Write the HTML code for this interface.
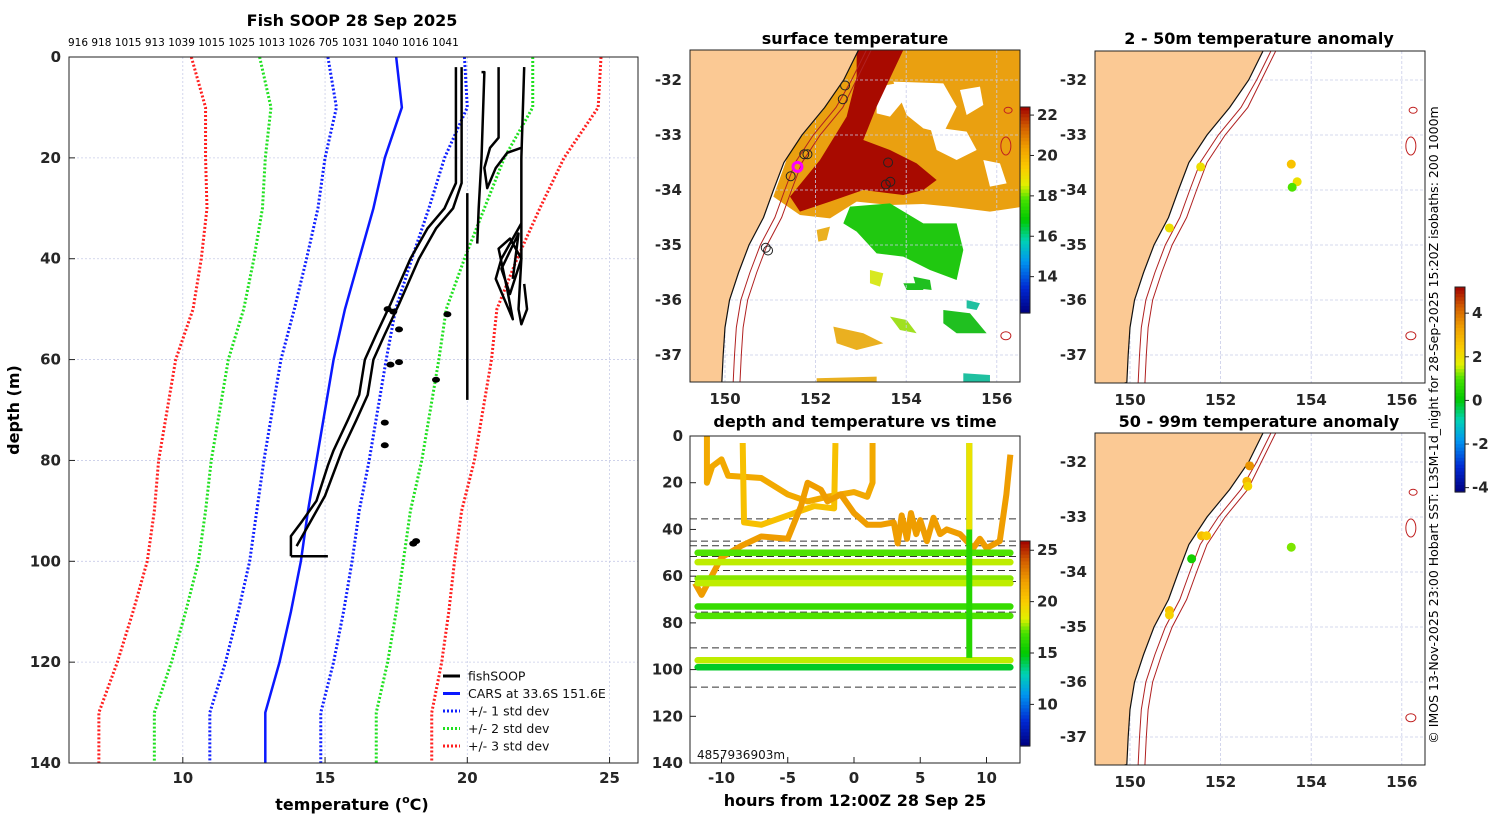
<!DOCTYPE html>
<html><head><meta charset="utf-8">
<style>
html,body{margin:0;padding:0;background:#fff;}
svg{display:block;font-family:"DejaVu Sans","Liberation Sans",sans-serif;}
.tk{font-size:15px;font-weight:bold;fill:#262626;}
.tt{font-size:16px;font-weight:bold;fill:#000;}
</style></head>
<body>
<svg id="fig" width="1500" height="820" viewBox="0 0 1500 820" xmlns="http://www.w3.org/2000/svg">
<rect width="1500" height="820" fill="#fff"/>
<text x="352" y="26" text-anchor="middle" class="tt">Fish SOOP 28 Sep 2025</text>
<text x="68" y="46" font-size="10.5" fill="#000">916 918 1015 913 1039 1015 1025 1013 1026 705 1031 1040 1016 1041</text>
<text x="352" y="810" text-anchor="middle" class="tt">temperature (<tspan font-size="11" dy="-7">o</tspan><tspan dy="7">C)</tspan></text>
<text transform="translate(19,410) rotate(-90)" text-anchor="middle" class="tt">depth (m)</text>
<text x="855" y="44" text-anchor="middle" class="tt">surface temperature</text>
<text x="855" y="427" text-anchor="middle" class="tt">depth and temperature vs time</text>
<text x="855" y="806" text-anchor="middle" class="tt">hours from 12:00Z 28 Sep 25</text>
<text x="1259" y="44" text-anchor="middle" class="tt">2 - 50m temperature anomaly</text>
<text x="1259" y="427" text-anchor="middle" class="tt">50 - 99m temperature anomaly</text>
<text transform="translate(1438,425) rotate(-90)" text-anchor="middle" font-size="12.5" fill="#000">© IMOS 13-Nov-2025 23:00 Hobart SST: L3SM-1d_night for 28-Sep-2025 15:20Z isobaths: 200  1000m</text>
</svg>
<script>
// ---------- data ----------
const cars_depth=[0,10,20,30,40,50,60,70,80,90,100,110,120,130,140];
const cars_mean=[17.5,17.7,17.1,16.7,16.2,15.7,15.3,15.0,14.7,14.4,14.15,13.8,13.4,12.9,12.9];
const cars_std=[2.4,2.3,2.1,1.95,1.85,1.78,1.85,1.85,1.85,1.8,1.8,1.85,1.9,1.95,1.95];
const temp_ticks=[10,15,20,25];
const depth_ticks=[0,20,40,60,80,100,120,140];
const soop_profiles=[
 [[19.6,2],[19.6,25],[19.2,30],[18.6,34],[18.0,40],[17.3,49],[16.8,55],[16.4,60],[16.2,67],[15.8,72],[15.3,78],[15.1,81],[14.7,88],[14.2,92],[13.8,95],[13.8,99]],
 [[19.8,2],[19.8,25],[19.5,30],[18.9,34],[18.3,40],[17.6,49],[17.1,55],[16.7,60],[16.5,67],[16.1,72],[15.6,78],[15.4,81],[15.0,87],[14.5,92],[14.0,97]],
 [[20.5,3],[20.6,3],[20.5,20],[20.4,30],[20.35,37]],
 [[21.1,2],[21.1,16],[20.8,18],[20.6,22],[20.7,26],[21.0,22],[21.4,19],[21.9,18]],
 [[22.0,2],[21.9,20],[21.9,30],[21.9,40],[21.8,50],[21.9,53],[22.1,50],[22.0,45]],
 [[21.9,33],[21.2,40],[21.0,44],[21.3,48],[21.6,52],[21.4,46],[21.1,38],[21.5,36],[21.9,40],[21.5,47],[21.2,42],[21.8,35],[21.6,44]],
 [[20.0,27],[20.0,68]],
 [[13.8,99],[15.1,99]]
];
const soop_blobs=[[17.2,50],[17.4,50.5],[17.6,54],[17.3,61],[17.6,60.5],[17.1,72.5],[17.1,77],[18.9,64],[19.3,51],[18.2,96],[18.1,96.5]];

const lon_ticks=[150,152,154,156];
const lat_ticks=[-32,-33,-34,-35,-36,-37];
const coast=[[152.95,-31.45],[152.62,-32],[152.2,-32.5],[151.7,-33],[151.3,-33.5],[151.07,-34],[150.85,-34.5],[150.53,-35],[150.3,-35.5],[150.1,-36],[150.0,-36.5],[149.96,-37],[149.93,-37.5]];
const sst_cb_ticks=[22,20,18,16,14];
const sst_circles=[[152.65,-32.1],[152.6,-32.35],[151.75,-33.35],[151.82,-33.35],[151.45,-33.75],[153.6,-33.5],[153.65,-33.85],[153.55,-33.9],[150.9,-35.05],[150.95,-35.1]];

const anom1_lon=[151.56,153.56,153.69,153.58,150.87];
const anom1_lat=[-33.58,-33.53,-33.85,-33.95,-34.69];
const anom1_val=[2.0,2.6,2.0,1.0,2.0];
const anom2_lon=[152.64,152.58,152.6,151.58,151.69,151.36,153.56,150.87,150.87];
const anom2_lat=[-32.07,-32.35,-32.44,-33.34,-33.34,-33.76,-33.55,-34.7,-34.78];
const anom2_val=[3.5,2.8,2.2,2.7,2.4,0.3,1.2,2.6,2.3];
const anom_cb_ticks=[4,2,0,-2,-4];

const ts_hour_ticks=[-10,-5,0,5,10];
const ts_level_depths=[50,54,61,63,73,77,96,99];
const ts_level_temps=[17,18,17.5,18,16.5,17,18,14.5];
const ts_dashed=[35.5,45,47,51.6,57.6,62.3,75.4,90.7,107.5];
const ts_tracks=[
 [[-11.1,0],[-11.1,20],[-10.7,13],[-10,10],[-9.5,17],[-7,18],[-5,25],[-3.5,28],[-2,26],[0,24],[1,26],[1.4,20],[1.4,3]],
 [[-8.4,3],[-8.3,37],[-7,38],[-5,34],[-3,30],[-1.5,31],[-1.4,3]],
 [[-12,63],[-11.5,68],[-10,52],[-8.5,47],[-7,43],[-5,44],[-4,30],[-3.5,20],[-2.5,23],[-2,28],[-1,25],[0,33],[1,38],[2,38],[3,37],[3.3,46],[3.6,34],[4,44],[4.3,33],[4.7,42],[5,36],[5.5,45],[6,35],[6.5,42],[7,40],[8,42],[8.5,45],[9,48],[9.5,44],[10,48],[11,45],[11.5,25],[11.8,8]]
];
const ts_track_temps=[21.5,20.5,22];
const ts_cb_ticks=[25,20,15,10];

// ---------- helpers ----------
const NS='http://www.w3.org/2000/svg';
const svg=document.getElementById('fig');
function mk(tag,attrs,parent){const e=document.createElementNS(NS,tag);for(const k in attrs)e.setAttribute(k,attrs[k]);(parent||svg).appendChild(e);return e;}
const stops=[[0,[0,0,128]],[0.12,[0,40,210]],[0.25,[0,150,240]],[0.35,[0,210,180]],[0.45,[0,200,0]],[0.55,[70,225,0]],[0.62,[225,240,0]],[0.7,[250,205,0]],[0.8,[240,160,0]],[0.9,[210,95,0]],[1,[160,0,0]]];
function cmap(t){t=Math.max(0,Math.min(1,t));for(let i=1;i<stops.length;i++){if(t<=stops[i][0]){const a=stops[i-1],b=stops[i],f=(t-a[0])/(b[0]-a[0]);const c=a[1].map((v,j)=>Math.round(v+(b[1][j]-v)*f));return `rgb(${c[0]},${c[1]},${c[2]})`;}}return 'rgb(160,0,0)';}
function colorbar(x,y0,y1,vtop,vbot,ticks,name){
  const g=mk('g',{});
  
  
  const n=60;
  for(let i=0;i<n;i++){const r=mk('rect',{x:x,y:y0+(y1-y0)*i/n,width:10,height:(y1-y0)/n+0.6,fill:cmap(1-(i+0.5)/n)},g);
    
    }
  const b=mk('rect',{x:x,y:y0,width:10,height:y1-y0,fill:'none',stroke:'#222','stroke-width':1},g);
  
  
  ticks.forEach(v=>{const yy=y0+(vtop-v)/(vtop-vbot)*(y1-y0);
    const l=mk('line',{x1:x+10,x2:x+14,y1:yy,y2:yy,stroke:'#222'},g);
    
    
    const t=mk('text',{x:x+17,y:yy+5,'class':'tk','font-size':'13'},g);t.textContent=v;
    
    });
}

// ---------- profile chart ----------
const PX=t=>69+(t-6)*28.45, PY=d=>57+d*5.043;
temp_ticks.forEach(t=>{const l=mk('line',{x1:PX(t),x2:PX(t),y1:57,y2:763,stroke:'#c8cce8','stroke-width':0.8,'stroke-dasharray':'2,2'});
  
  });
depth_ticks.forEach(d=>{const l=mk('line',{x1:69,x2:638,y1:PY(d),y2:PY(d),stroke:'#c8cce8','stroke-width':0.8,'stroke-dasharray':'2,2'});
  
  });
function profLine(k,color,dash,name){
  const pts=cars_depth.map((d,i)=>PX(cars_mean[i]+k*cars_std[i])+','+PY(d)).join(' ');
  const p=mk('polyline',{points:pts,fill:'none',stroke:color,'stroke-width':dash?3:2.5,'stroke-dasharray':dash?'2,2':''});
  
  
}
profLine(-3,'#ff2020',1,'minus-3-std-line');profLine(3,'#ff2020',1,'plus-3-std-line');
profLine(-2,'#20e020',1,'minus-2-std-line');profLine(2,'#20e020',1,'plus-2-std-line');
profLine(-1,'#1020ff',1,'minus-1-std-line');profLine(1,'#1020ff',1,'plus-1-std-line');
profLine(0,'#0a18ff',0,'cars-mean-line');
soop_profiles.forEach(pr=>{const p=mk('polyline',{points:pr.map(q=>PX(q[0])+','+PY(q[1])).join(' '),fill:'none',stroke:'#000','stroke-width':2.5,'stroke-linejoin':'round'});
  
  });
soop_blobs.forEach(b=>{const c=mk('ellipse',{cx:PX(b[0]),cy:PY(b[1]),rx:4,ry:3,fill:'#000'});
  
  });
{const r=mk('rect',{x:69,y:57,width:569,height:706,fill:'none',stroke:'#222','stroke-width':1});
 
 }
temp_ticks.forEach(t=>{const l=mk('line',{x1:PX(t),x2:PX(t),y1:763,y2:757,stroke:'#222'});
  
  
  const tx=mk('text',{x:PX(t),y:783,'text-anchor':'middle','class':'tk'});tx.textContent=t;
  
  });
depth_ticks.forEach(d=>{const l=mk('line',{x1:69,x2:75,y1:PY(d),y2:PY(d),stroke:'#222'});
  
  
  const tx=mk('text',{x:61,y:PY(d)+5,'text-anchor':'end','class':'tk'});tx.textContent=d;
  
  });
const legend=[['fishSOOP','#000',0],['CARS at 33.6S 151.6E','#0a18ff',0],['+/- 1 std dev','#1020ff',1],['+/- 2 std dev','#20e020',1],['+/- 3 std dev','#ff2020',1]];
legend.forEach((e,i)=>{const y=676+i*17.5;
  const l=mk('line',{x1:443,x2:460,y1:y,y2:y,stroke:e[1],'stroke-width':3,'stroke-dasharray':e[2]?'2,2':''});
  
  
  const t=mk('text',{x:468,y:y+4.5,'font-size':'12.5',fill:'#111'});t.textContent=e[0];
  
  });

// ---------- maps ----------
function mapAxes(x0,y0,lat32y,name,drawSST){
  const MX=lon=>x0+35+(lon-150)*45.3, MY=lat=>lat32y+(-32-lat)*55;
  const g=mk('g',{});
  
  
  const clipId='c'+name;
  const cp=mk('clipPath',{id:clipId},g);mk('rect',{x:x0,y:y0,width:330,height:332},cp);
  const inner=mk('g',{'clip-path':`url(#${clipId})`},g);
  if(drawSST){
    const s=mk('g',{transform:`translate(${x0},${y0}) scale(0.3333)`},inner);
    const polys=[
     ['M480,0 L1000,0 L1000,470 L900,485 L780,470 L700,462 L600,465 L500,455 L420,505 L330,495 L250,440 L300,300 L400,180 L470,60 Z','#eaa010','sst-warm-region'],
     ['M560,110 L620,100 L650,140 L600,200 L560,190 Z','#fff','sst-cloud-gap'],
     ['M610,95 L760,100 L800,170 L760,250 L700,235 L650,195 Z','#fff','sst-cloud-gap'],
     ['M720,230 L830,245 L860,300 L800,330 L740,300 Z','#fff','sst-cloud-gap'],
     ['M810,120 L870,110 L880,165 L830,195 Z','#fff','sst-cloud-gap'],
     ['M880,330 L930,340 L950,400 L900,410 Z','#fff','sst-cloud-gap'],
     ['M660,385 L700,395 L690,420 L655,412 Z','#fff','sst-cloud-gap'],
     ['M500,0 L640,0 L560,170 L520,270 L600,300 L680,340 L740,390 L700,420 L640,435 L520,420 L420,455 L330,485 L300,440 L390,330 L470,200 L500,80 Z','#a80a00','sst-warm-plume'],
     ['M480,470 L600,460 L700,520 L800,520 L820,600 L800,690 L720,660 L640,620 L560,610 L500,545 L460,520 Z','#20c810','sst-cool-patch'],
     ['M670,680 L720,690 L725,720 L680,715 Z','#20c020','sst-cool-patch'],
     ['M760,780 L840,790 L890,850 L800,850 L760,820 Z','#20c020','sst-cool-patch'],
     ['M600,800 L650,810 L680,850 L630,840 Z','#a0e020','sst-patch'],
     ['M430,830 L520,850 L580,880 L500,900 L440,880 Z','#eab020','sst-patch'],
     ['M830,750 L870,760 L860,780 L830,775 Z','#20c0a0','sst-patch'],
     ['M820,970 L900,975 L900,1000 L820,1000 Z','#20c0a0','sst-patch'],
     ['M380,985 L560,980 L560,1000 L380,1000 Z','#eab020','sst-patch'],
     ['M540,660 L580,670 L570,710 L540,700 Z','#d8e820','sst-patch'],
     ['M380,540 L420,530 L410,570 L385,575 Z','#eab020','sst-patch'],
     ['M640,700 L700,700 L700,720 L650,720 Z','#20c020','sst-patch']
    ];
    polys.forEach(p=>{const e=mk('path',{d:p[0],fill:p[1]},s);
      
      });
  }
  lon_ticks.forEach(l=>{const e=mk('line',{x1:MX(l),x2:MX(l),y1:y0,y2:y0+332,stroke:'#c8cce8','stroke-width':0.8,'stroke-dasharray':'3,2'},inner);
    
    });
  lat_ticks.forEach(l=>{const e=mk('line',{x1:x0,x2:x0+330,y1:MY(l),y2:MY(l),stroke:'#c8cce8','stroke-width':0.8,'stroke-dasharray':'3,2'},inner);
    
    });
  const cpts=coast.map(c=>MX(c[0])+','+MY(c[1]));
  const land=mk('polygon',{points:cpts.join(' ')+` ${x0-5},${y0+340} ${x0-5},${y0-5}`,fill:'#fbc994',stroke:'#111','stroke-width':1.2},inner);
  
  
  [0.25,0.4].forEach(o=>{const e=mk('polyline',{points:coast.map((c,i)=>MX(c[0]+o*(i<2?0.7:1))+','+MY(c[1])).join(' '),fill:'none',stroke:'#b02020','stroke-width':1},inner);
    
    });
  [[156.2,-33.2,5,9],[156.25,-32.55,4,3],[156.2,-36.65,5,4]].forEach(c=>{const e=mk('ellipse',{cx:MX(c[0]),cy:MY(c[1]),rx:c[2],ry:c[3],fill:'none',stroke:'#c02020','stroke-width':1},inner);
    
    });
  const fr=mk('rect',{x:x0,y:y0,width:330,height:332,fill:'none',stroke:'#222'},g);
  
  
  lon_ticks.forEach(l=>{const t=mk('text',{x:MX(l),y:y0+354,'text-anchor':'middle','class':'tk'},g);t.textContent=l;
    
    });
  lat_ticks.forEach(l=>{const t=mk('text',{x:x0-8,y:MY(l)+5,'text-anchor':'end','class':'tk'},g);t.textContent=l;
    
    });
  return {MX,MY,inner};
}
const m1=mapAxes(690,50,80,'sst-map',true);
sst_circles.forEach(c=>{const e=mk('circle',{cx:m1.MX(c[0]),cy:m1.MY(c[1]),r:4.5,fill:'none',stroke:'#222','stroke-width':1},m1.inner);
  
  });
{const e=mk('circle',{cx:m1.MX(151.6),cy:m1.MY(-33.58),r:4.5,fill:'none',stroke:'#ff00ff','stroke-width':3},m1.inner);
 
 }
colorbar(1020,107,313,22.4,12.2,sst_cb_ticks,'sst-colorbar');

const m2=mapAxes(1095,51,80,'anomaly-map-1',false);
anom1_lon.forEach((lo,i)=>{const e=mk('circle',{cx:m2.MX(lo),cy:m2.MY(anom1_lat[i]),r:4.5,fill:cmap((anom1_val[i]+4.2)/9.4)},m2.inner);
  
  });
const m3=mapAxes(1095,433,462,'anomaly-map-2',false);
anom2_lon.forEach((lo,i)=>{const e=mk('circle',{cx:m3.MX(lo),cy:m3.MY(anom2_lat[i]),r:4.5,fill:cmap((anom2_val[i]+4.2)/9.4)},m3.inner);
  
  });
colorbar(1455,287,492,5.2,-4.2,anom_cb_ticks,'anomaly-colorbar');

// ---------- time series ----------
const TX=h=>854+h*13.25, TY=d=>436+d*2.336;
const tcol=v=>cmap((v-5.95)/(25.9-5.95));
ts_dashed.forEach(d=>{const e=mk('line',{x1:690,x2:1020,y1:TY(d),y2:TY(d),stroke:'#333','stroke-width':1,'stroke-dasharray':'7,4'});
  
  });
ts_tracks.forEach((tr,i)=>{const e=mk('polyline',{points:tr.map(q=>TX(q[0])+','+TY(q[1])).join(' '),fill:'none',stroke:tcol(ts_track_temps[i]),'stroke-width':6,'stroke-linejoin':'round'});
  
  });
ts_level_depths.forEach((d,i)=>{const e=mk('line',{x1:TX(-11.8),x2:TX(11.8),y1:TY(d),y2:TY(d),stroke:tcol(ts_level_temps[i]),'stroke-width':6.5,'stroke-linecap':'round'});
  
  });
{const e=mk('line',{x1:TX(8.7),x2:TX(8.7),y1:TY(3),y2:TY(95),stroke:tcol(16),'stroke-width':6});
 
 
 const e2=mk('line',{x1:TX(8.7),x2:TX(8.7),y1:TY(3),y2:TY(40),stroke:tcol(19),'stroke-width':6});
 
 }
{const r=mk('rect',{x:690,y:436,width:330,height:327,fill:'none',stroke:'#222'});
 
 }
ts_hour_ticks.forEach(h=>{const e=mk('line',{x1:TX(h),x2:TX(h),y1:763,y2:757,stroke:'#222'});
  
  
  const t=mk('text',{x:TX(h),y:783,'text-anchor':'middle','class':'tk'});t.textContent=h;
  
  });
depth_ticks.forEach(d=>{const e=mk('line',{x1:690,x2:696,y1:TY(d),y2:TY(d),stroke:'#222'});
  
  
  const t=mk('text',{x:683,y:TY(d)+5,'text-anchor':'end','class':'tk'});t.textContent=d;
  
  });
{const t=mk('text',{x:697,y:759,'font-size':'12',fill:'#111'});t.textContent='4857936903m';
 
 }
colorbar(1020,541,746,25.9,5.95,ts_cb_ticks,'timeseries-colorbar');
</script>
</body></html>
